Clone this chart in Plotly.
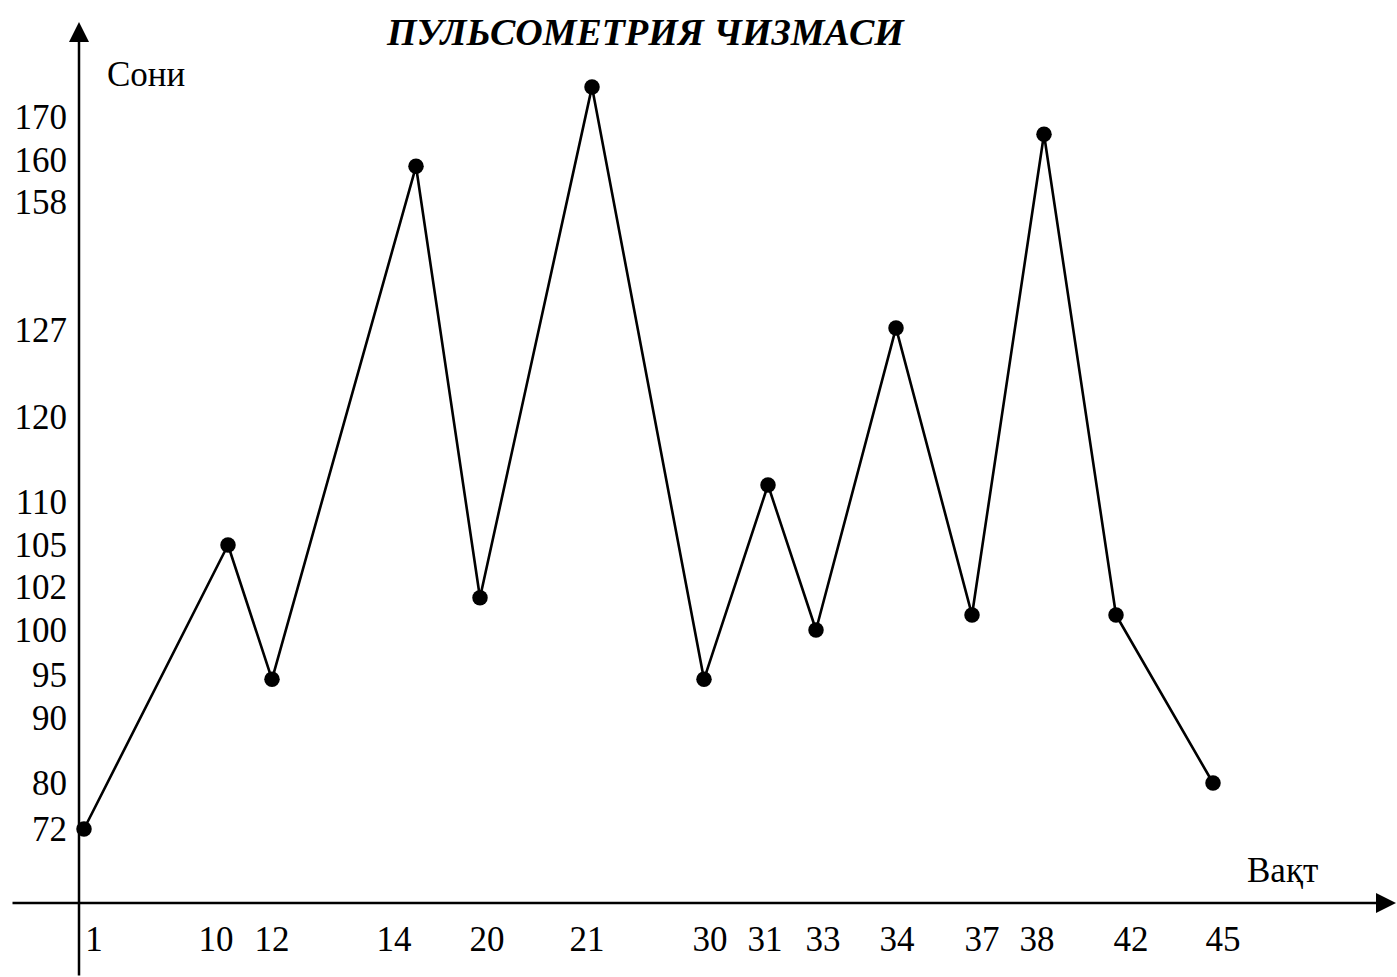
import numpy as np
import plotly.graph_objects as go

# ---- data ----
time_labels = [1, 10, 12, 14, 20, 21, 30, 31, 33, 34, 37, 38, 42, 45]
pulse = [72, 105, 94.5, 159.7, 101.5, 177, 94.5, 112, 100, 127.5, 100.7, 166, 100.7, 80]
y_tick_labels = [72, 80, 90, 95, 100, 102, 105, 110, 120, 127, 158, 160, 170]

# ---- the drawing's own (non-uniform) scales, in drawing units ----
W, H = 1397, 977
y_tick_pos = [829, 783, 718, 675, 630, 587, 545, 502, 417, 330, 202, 160, 117]
time_slot_pos = [84, 228, 272, 416, 480, 592, 704, 768, 816, 896, 972, 1044, 1116, 1213]
time_label_pos = [94, 216, 272, 394, 487, 587, 710, 765, 823, 897, 982, 1037, 1131, 1223]
y_axis_x = 79
x_axis_y = 903


def scale_y(v):
    vals = np.array(y_tick_labels, dtype=float)
    pos = np.array(y_tick_pos, dtype=float)
    v = np.asarray(v, dtype=float)
    out = np.interp(v, vals, pos)
    hi = v > vals[-1]
    out[hi] = pos[-1] + (v[hi] - vals[-1]) * (pos[-1] - pos[-2]) / (vals[-1] - vals[-2])
    lo = v < vals[0]
    out[lo] = pos[0] + (v[lo] - vals[0]) * (pos[1] - pos[0]) / (vals[1] - vals[0])
    return out


def scale_x(t):
    return np.interp(t, time_labels, time_slot_pos)


FONT = "Liberation Serif, Times New Roman, serif"

fig = go.Figure()
fig.add_trace(go.Scatter(
    x=scale_x(time_labels), y=scale_y(pulse),
    mode="lines+markers",
    line=dict(color="black", width=2.6),
    marker=dict(color="black", size=15.5),
    cliponaxis=False, showlegend=False, hoverinfo="skip",
))

fig.update_layout(
    width=W, height=H,
    margin=dict(l=0, r=0, t=0, b=0),
    paper_bgcolor="white", plot_bgcolor="white",
    font=dict(family=FONT, size=35, color="black"),
    xaxis=dict(
        range=[0, W], domain=[0, 1], anchor="free", position=1 - x_axis_y / H,
        showgrid=False, zeroline=False, showline=False,
        tickmode="array", tickvals=time_label_pos,
        ticktext=[str(t) for t in time_labels],
        ticks="", ticklabelstandoff=12,
        tickfont=dict(family=FONT, size=35, color="black"),
    ),
    yaxis=dict(
        range=[H, 0], domain=[0, 1], anchor="free", position=y_axis_x / W,
        showgrid=False, zeroline=False, showline=False,
        tickmode="array", tickvals=y_tick_pos,
        ticktext=[str(v) for v in y_tick_labels],
        ticks="", ticklabelstandoff=12,
        tickfont=dict(family=FONT, size=35, color="black"),
    ),
)

# axes with arrows
fig.add_annotation(x=y_axis_x, y=22, ax=y_axis_x, ay=H, xref="x", yref="y",
                   axref="x", ayref="y", text="", showarrow=True,
                   arrowhead=2, arrowsize=1.6, arrowwidth=2.5, arrowcolor="black")
fig.add_annotation(x=W - 1, y=x_axis_y, ax=11, ay=x_axis_y, xref="x", yref="y",
                   axref="x", ayref="y", text="", showarrow=True,
                   arrowhead=2, arrowsize=1.6, arrowwidth=2.5, arrowcolor="black")

# texts
fig.add_annotation(x=645, y=32, xref="x", yref="y", showarrow=False,
                   text="<b><i>ПУЛЬСОМЕТРИЯ ЧИЗМАСИ</i></b>",
                   font=dict(family=FONT, size=38, color="black"))
fig.add_annotation(x=146, y=74, xref="x", yref="y", showarrow=False,
                   text="Сони", font=dict(family=FONT, size=35, color="black"))
fig.add_annotation(x=1282, y=870, xref="x", yref="y", showarrow=False,
                   text="Вақт", font=dict(family=FONT, size=35, color="black"))

fig.write_html("out.html", config={"displayModeBar": False},
               post_script="document.body.style.margin='0';document.body.style.overflow='hidden';")
